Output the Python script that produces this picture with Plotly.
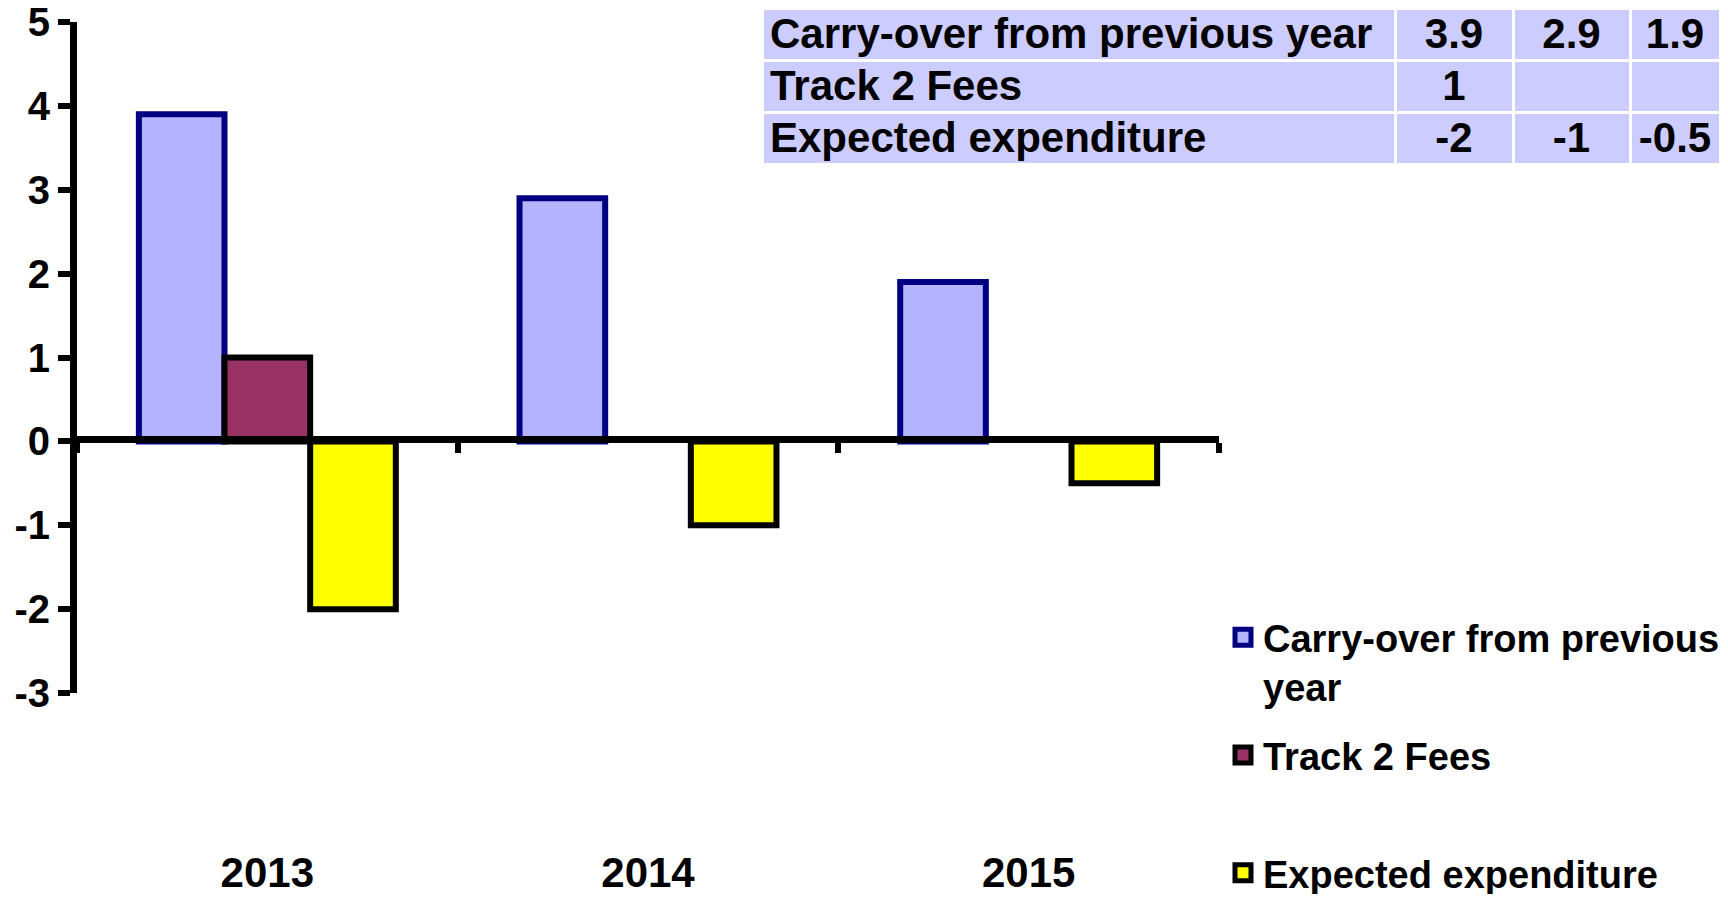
import plotly.graph_objects as go

# ---- data ----
years = ["2013", "2014", "2015"]
series_names = ["Carry-over from previous year", "Track 2 Fees", "Expected expenditure"]
carry_over = [3.9, 2.9, 1.9]
track2_fees = [1, None, None]
expected_expenditure = [-2, -1, -0.5]
y_tick_values = [-3, -2, -1, 0, 1, 2, 3, 4, 5]
y_tick_labels = [str(v) for v in y_tick_values]
legend_labels = ["Carry-over from previous<br>year", "Track 2 Fees<br> ", "Expected expenditure"]

# ---- styles ----
fill_colors = ["#B3B3FF", "#993366", "#FFFF00"]
line_colors = ["#000080", "#000000", "#000000"]
OFF = 8                  # page body margin
FW, FH = 1712, 886       # figure size that fits the 1728x902 window
FONT = "Liberation Sans, Arial, sans-serif"

def px_x(p):  # window pixel -> paper x
    return (p - OFF) / FW

def px_y(p):  # window pixel -> paper y
    return (FH - (p - OFF)) / FH

series_values = [carry_over, track2_fees, expected_expenditure]

def fmt(v):
    return "" if v is None else f"{v:g}"

fig = go.Figure()
for name, vals, fc, lc in zip(series_names, series_values, fill_colors, line_colors):
    fig.add_trace(go.Bar(
        x=years, y=vals, name=name, showlegend=False,
        marker=dict(color=fc, line=dict(color=lc, width=6)),
    ))
# legend entries (square symbols)
for lbl, name, fc, lc in zip(legend_labels, series_names, fill_colors, line_colors):
    fig.add_trace(go.Scatter(
        x=[None], y=[None], mode="markers", name=lbl, legendgroup=name,
        marker=dict(symbol="square", size=16, color=fc, line=dict(color=lc, width=5)),
    ))

# data table at the top right
header_row = [series_names[0]] + [fmt(v) for v in carry_over]
cell_cols = [series_names[1:]] + [[fmt(a), fmt(b)] for a, b in zip(track2_fees, expected_expenditure)]
tfont = dict(family=FONT, size=42, color="black", weight="bold")
fig.add_trace(go.Table(
    domain=dict(x=[px_x(762), 1], y=[px_y(166), 1]),
    columnwidth=[633, 118, 117, 90],
    header=dict(values=header_row, fill_color="#CCCCFF", line=dict(color="white", width=3),
                align=["left", "center", "center", "center"], height=52, font=tfont),
    cells=dict(values=cell_cols, fill_color="#CCCCFF", line=dict(color="white", width=3),
               align=["left", "center", "center", "center"], height=52, font=tfont),
))

y0, y1 = px_y(693), px_y(22)

fig.update_layout(
    width=FW, height=FH,
    margin=dict(l=0, r=0, t=0, b=0, autoexpand=False),
    paper_bgcolor="white", plot_bgcolor="white",
    barmode="group", bargap=0.325, bargroupgap=0,
    xaxis=dict(
        domain=[px_x(77), px_x(1219)], type="category", anchor="free", position=px_y(438.5),
        showline=True, linecolor="black", linewidth=7, showgrid=False, zeroline=False,
        ticks="outside", tickson="boundaries", ticklen=10, tickwidth=6, tickcolor="black",
        ticklabelstandoff=394, automargin=False, ticklabeloverflow="allow",
        tickfont=dict(family=FONT, size=42, color="black", weight="bold"),
    ),
    yaxis=dict(
        domain=[y0, y1], range=[-3, 5], tickvals=y_tick_values, ticktext=y_tick_labels,
        showline=True, linecolor="black", linewidth=7, showgrid=False, zeroline=False,
        ticks="outside", ticklen=12, tickwidth=6, tickcolor="black", automargin=False,
        ticklabeloverflow="allow",
        tickfont=dict(family=FONT, size=40, color="black", weight="bold"),
    ),
    legend=dict(
        x=px_x(1223), y=px_y(606), xanchor="left", yanchor="top", valign="top",
        bgcolor="rgba(0,0,0,0)", tracegroupgap=16,
        font=dict(family=FONT, size=38, color="black", weight="bold"),
    ),
)

fig.write_html("out.html")
